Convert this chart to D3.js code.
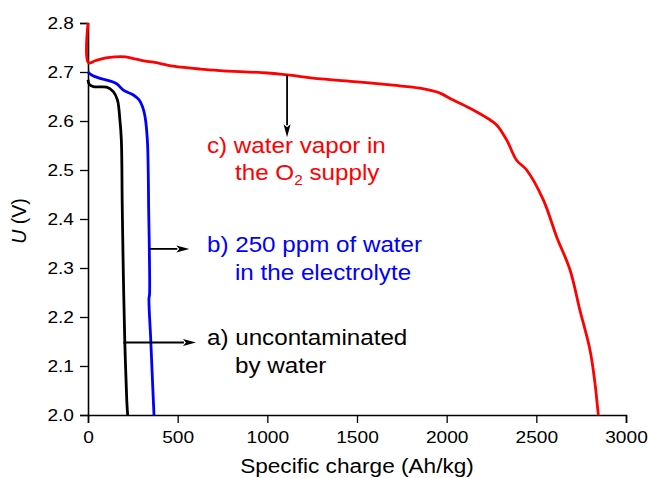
<!DOCTYPE html>
<html>
<head>
<meta charset="utf-8">
<script src="https://cdn.jsdelivr.net/npm/d3@7"></script>
<style>
  body { margin: 0; background: #fff; }
  svg { display: block; font-family: "Liberation Sans", Arial, sans-serif; }
</style>
</head>
<body>
<div id="chart"></div>
<script>
// curves (specific charge in Ah/kg, voltage in V)
const redX   = [0, 2, 40, 100, 150, 210, 260, 320, 364, 476, 625, 736, 1000, 1110, 1300, 1500, 1700, 1851, 1963, 2019, 2130, 2230, 2279, 2335, 2390, 2446, 2539, 2613, 2688, 2743, 2799, 2827, 2840, 2846];
const redU   = [2.80, 2.719, 2.723, 2.729, 2.731, 2.731, 2.727, 2.722, 2.720, 2.712, 2.706, 2.703, 2.698, 2.694, 2.686, 2.680, 2.673, 2.667, 2.657, 2.646, 2.626, 2.605, 2.592, 2.561, 2.520, 2.500, 2.439, 2.364, 2.296, 2.214, 2.133, 2.065, 2.020, 2.000];

const blueX  = [0, 20, 67, 120, 160, 197, 253, 285, 305, 318, 331, 336, 338, 342, 343, 340, 350, 361, 368];
const blueU  = [2.700, 2.694, 2.687, 2.682, 2.676, 2.663, 2.653, 2.643, 2.628, 2.609, 2.561, 2.493, 2.425, 2.337, 2.245, 2.238, 2.153, 2.058, 2.000];

const blackX = [0, 7, 30, 104, 141, 164, 178, 186, 191, 197, 205, 216, 221];
const blackU = [2.684, 2.675, 2.670, 2.669, 2.660, 2.643, 2.602, 2.561, 2.425, 2.289, 2.153, 2.031, 2.000];

// arrows: [x0, U0, x1, U1]
const arrowRed   = [1110, 2.694, 1110, 2.567];
const arrowBlue  = [342, 2.339, 565, 2.339];
const arrowBlack = [197, 2.148, 602, 2.148];

const labelC = ["c) water vapor in", ["the O", "2", " supply"]];
const labelB = ["b) 250 ppm of water", ["in the electrolyte"]];
const labelA = ["a) uncontaminated", ["by water"]];

const xTicks = [0, 500, 1000, 1500, 2000, 2500, 3000];
const yTicks = [2.0, 2.1, 2.2, 2.3, 2.4, 2.5, 2.6, 2.7, 2.8];

const width = 648, height = 478;
const stretch = 1.16;     // tick and title type is a little wide
const labelStretch = 1.1;

const svg = d3.select("#chart").append("svg")
    .attr("width", width).attr("height", height);
svg.append("rect").attr("width", width).attr("height", height).attr("fill", "#fff");

const x = d3.scaleLinear().domain([0, 3000]).range([88, 626]);
const y = d3.scaleLinear().domain([2.0, 2.8]).range([415, 23]);

// minor ticks first, then major axis
const gx = svg.append("g").attr("transform", `translate(0,${y(2.0)})`);
gx.call(d3.axisBottom(x).tickValues(d3.range(250, 3000, 500)).tickSize(4.5).tickFormat(""));
gx.call(d3.axisBottom(x).tickValues(xTicks).tickSize(8).tickPadding(8.6).tickFormat(d3.format("d")));

const gy = svg.append("g").attr("transform", `translate(${x(0)},0)`);
gy.call(d3.axisLeft(y).tickValues(d3.range(2.05, 2.8, 0.1)).tickSize(4.5).tickFormat(""));
gy.call(d3.axisLeft(y).tickValues(yTicks).tickSize(8).tickPadding(6).tickFormat(d3.format(".1f")));

svg.selectAll(".domain").attr("stroke", "#000").attr("stroke-width", 1.6);
svg.selectAll(".tick line").attr("stroke", "#000").attr("stroke-width", 1.3);
svg.selectAll(".tick text")
    .attr("fill", "#000")
    .attr("font-size", 16.5)
    .attr("font-family", "Liberation Sans, Arial, sans-serif");
gy.selectAll(".tick text").attr("x", -14 / stretch).attr("transform", `scale(${stretch},1)`);
gx.selectAll(".tick text").attr("transform", `scale(${stretch},1)`);

// axis titles
svg.append("text")
    .attr("transform", `translate(${(x(0) + x(3000)) / 2},473) scale(${stretch},1)`)
    .attr("text-anchor", "middle").attr("font-size", 19.5)
    .text("Specific charge (Ah/kg)");

const yl = svg.append("text")
    .attr("transform", `translate(26,${(y(2.0) + y(2.8)) / 2 + 2}) rotate(-90)`)
    .attr("text-anchor", "middle").attr("font-size", 19.5);
yl.append("tspan").attr("font-style", "italic").text("U");
yl.append("tspan").text(" (V)");

// curves
const line = d3.line().x(d => x(d[0])).y(d => y(d[1])).curve(d3.curveCatmullRom.alpha(0.5));
const series = [
    { xs: blackX, us: blackU, color: "#000000" },
    { xs: blueX,  us: blueU,  color: "#0000ff" },
    { xs: redX,   us: redU,   color: "#ff0000" }
];
series.forEach(s => {
    svg.append("path")
        .datum(d3.zip(s.xs, s.us))
        .attr("d", line)
        .attr("fill", "none")
        .attr("stroke", s.color)
        .attr("stroke-width", 2.8)
        .attr("stroke-linejoin", "round");
});

// arrows
function arrow(a) {
    const x0 = x(a[0]), y0 = y(a[1]), x1 = x(a[2]), y1 = y(a[3]);
    const len = Math.hypot(x1 - x0, y1 - y0);
    const ux = (x1 - x0) / len, uy = (y1 - y0) / len;
    const head = 13, half = 3.5;
    const bx = x1 - ux * head, by = y1 - uy * head;
    svg.append("line")
        .attr("x1", x0).attr("y1", y0).attr("x2", bx + ux).attr("y2", by + uy)
        .attr("stroke", "#000").attr("stroke-width", 1.8);
    svg.append("path")
        .attr("d", `M${x1},${y1}L${bx - uy * half},${by + ux * half}L${bx + ux * 3},${by + uy * 3}L${bx + uy * half},${by - ux * half}Z`)
        .attr("fill", "#000");
}
arrow(arrowRed);
arrow(arrowBlue);
arrow(arrowBlack);

// labels
function label(lines, color, left, base) {
    svg.append("text")
        .attr("transform", `translate(${left},${base}) scale(${labelStretch},1)`)
        .attr("font-size", 22).attr("fill", color)
        .text(lines[0]);
    const t = svg.append("text")
        .attr("transform", `translate(${left + 28},${base + 27.5}) scale(${labelStretch},1)`)
        .attr("font-size", 22).attr("fill", color);
    const parts = lines[1];
    t.append("tspan").text(parts[0]);
    if (parts.length > 1) {
        t.append("tspan").attr("dy", 5).attr("font-size", 14).text(parts[1]);
        t.append("tspan").attr("dy", -5).text(parts[2]);
    }
}
label(labelC, "#ff0000", 207, 152.5);
label(labelB, "#0000ff", 207, 252.3);
label(labelA, "#000000", 207, 345);
</script>
</body>
</html>
